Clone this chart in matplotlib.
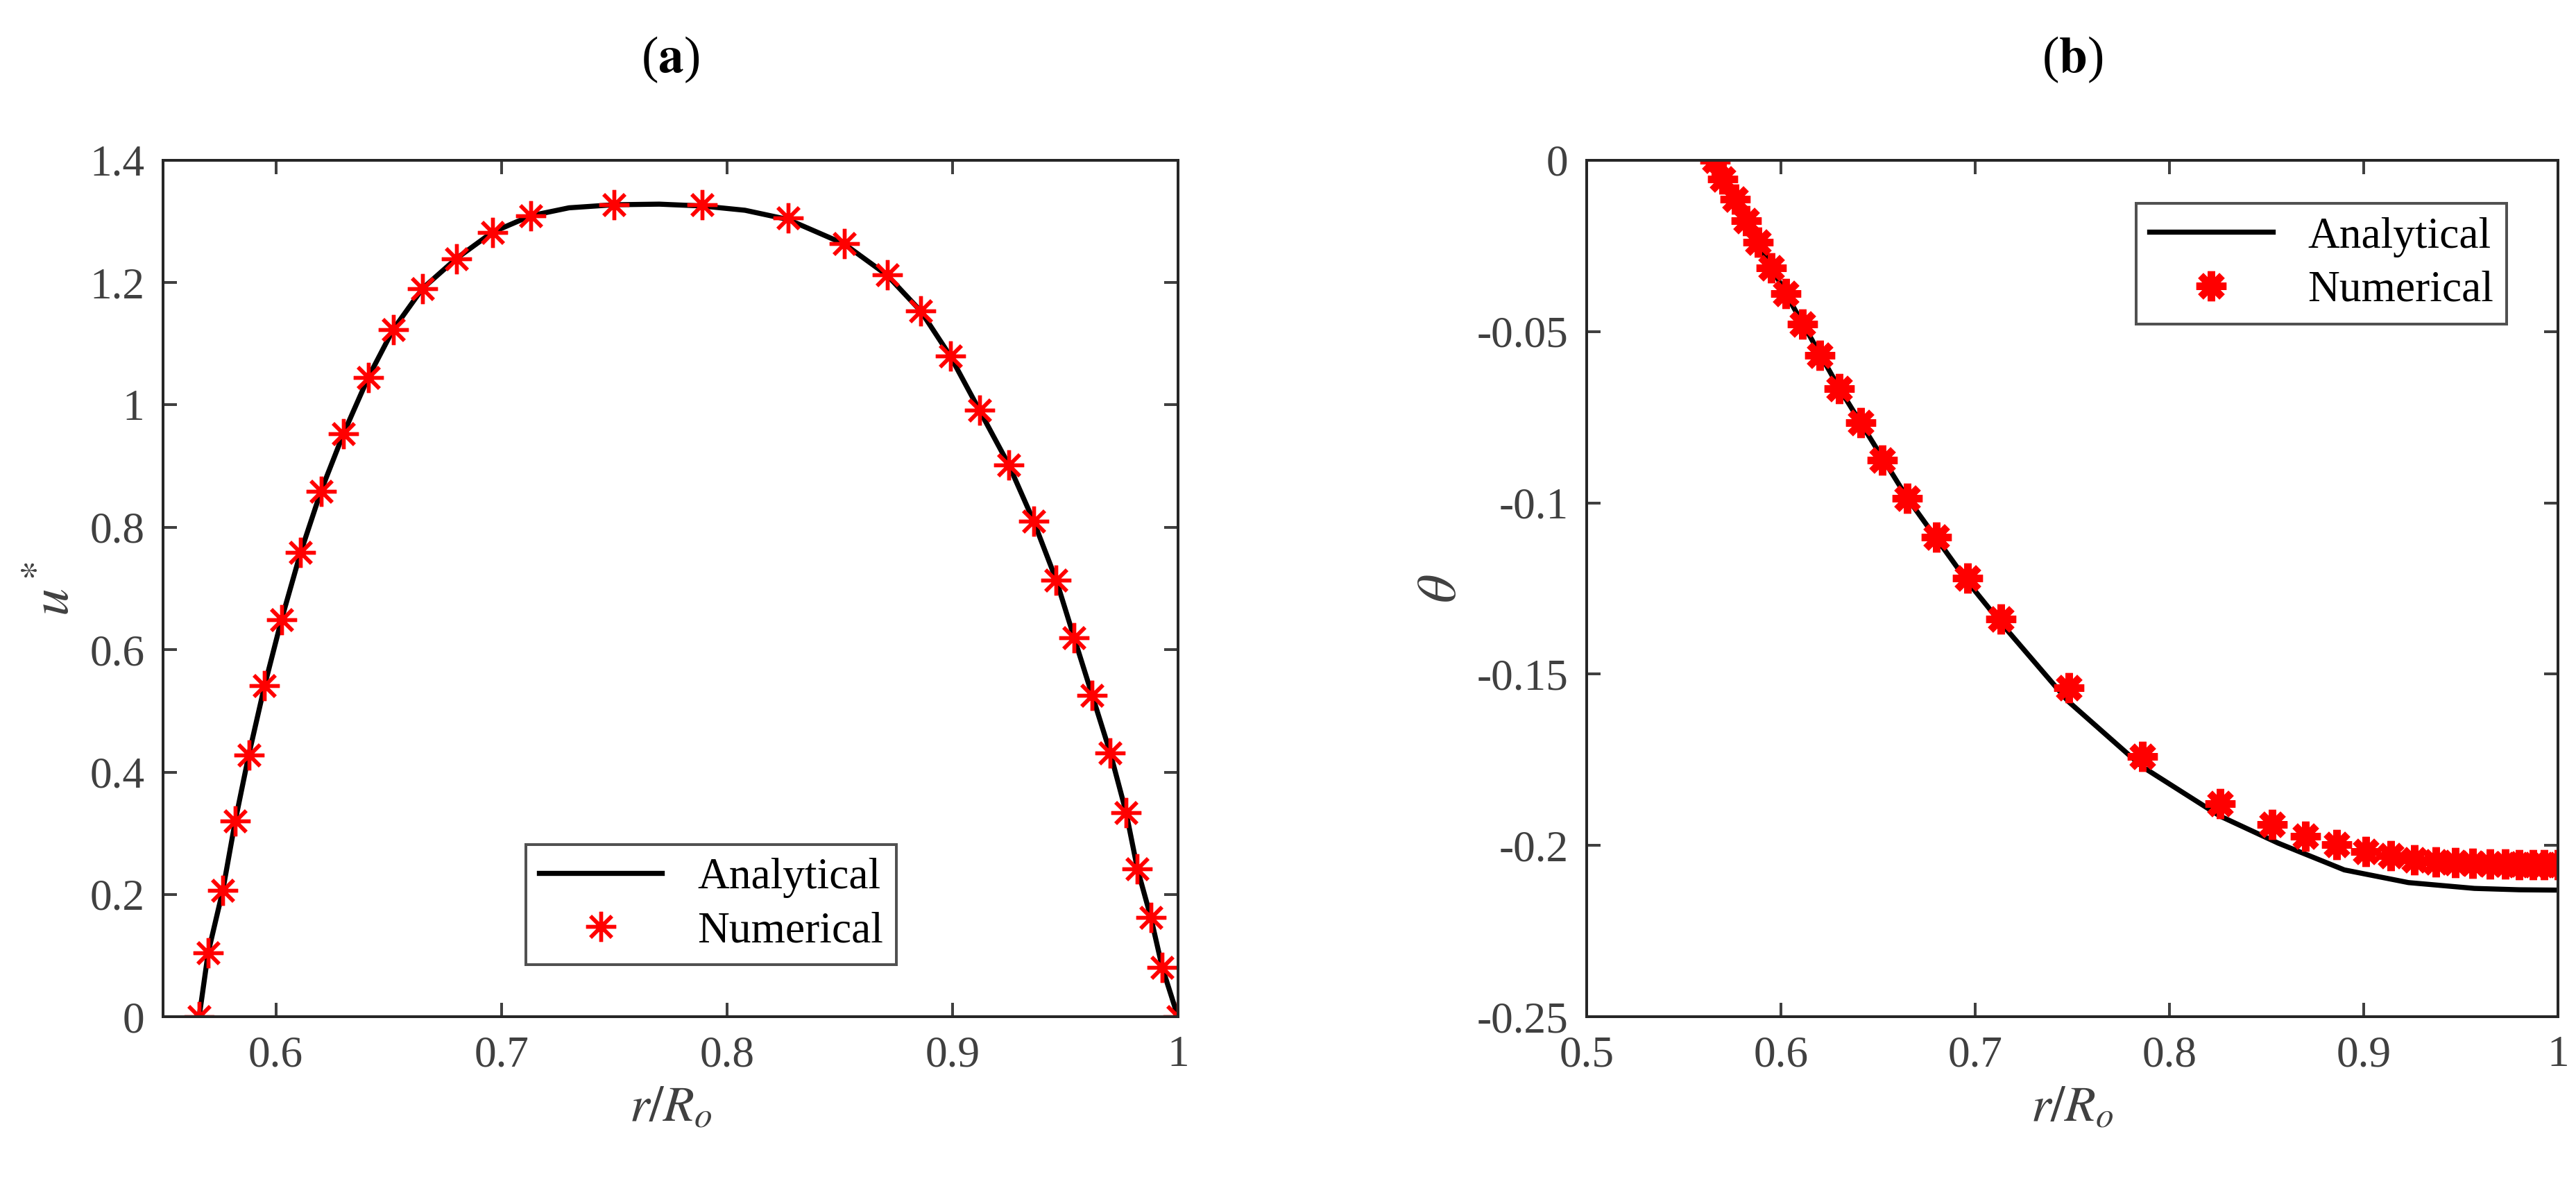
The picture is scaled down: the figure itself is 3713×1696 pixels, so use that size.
import matplotlib

matplotlib.use("Agg")
import matplotlib.pyplot as plt
from matplotlib.ticker import FormatStrFormatter

plt.rcParams["font.family"] = ["Liberation Serif", "DejaVu Serif"]
plt.rcParams["mathtext.fontset"] = "stix"

# (a) velocity u*
a_num_r = [0.566, 0.570, 0.5765, 0.582, 0.588, 0.595, 0.6025, 0.611, 0.620, 0.630,
           0.641, 0.652, 0.665, 0.680, 0.696, 0.713, 0.750, 0.789, 0.827, 0.852,
           0.871, 0.886, 0.899, 0.912, 0.925, 0.936, 0.946, 0.954, 0.962, 0.970,
           0.977, 0.982, 0.988, 0.993, 1.0]
a_num_u = [0.0, 0.105, 0.207, 0.32, 0.428, 0.541, 0.649, 0.759, 0.859, 0.953,
           1.045, 1.123, 1.19, 1.239, 1.282, 1.309, 1.327, 1.327, 1.306, 1.263,
           1.212, 1.153, 1.080, 0.991, 0.902, 0.810, 0.714, 0.619, 0.525, 0.431,
           0.334, 0.242, 0.162, 0.081, 0.0]
a_ana_r = [0.566, 0.570, 0.5765, 0.582, 0.588, 0.595, 0.6025, 0.611, 0.620, 0.630,
           0.641, 0.652, 0.665, 0.680, 0.696, 0.713, 0.730, 0.750, 0.770, 0.789,
           0.808, 0.827, 0.852, 0.871, 0.886, 0.899, 0.912, 0.925, 0.936, 0.946,
           0.954, 0.962, 0.970, 0.977, 0.982, 0.988, 0.993, 1.0]
a_ana_u = [0.0, 0.105, 0.207, 0.32, 0.428, 0.541, 0.649, 0.759, 0.859, 0.953,
           1.045, 1.123, 1.19, 1.239, 1.282, 1.309, 1.322, 1.327, 1.328, 1.325,
           1.318, 1.303, 1.263, 1.212, 1.153, 1.080, 0.991, 0.902, 0.810, 0.714,
           0.619, 0.525, 0.431, 0.334, 0.242, 0.162, 0.081, 0.0]

# (b) theta
b_num_r = [0.566, 0.570, 0.5765, 0.582, 0.588, 0.595, 0.6025, 0.611, 0.620, 0.630,
           0.641, 0.652, 0.665, 0.680, 0.696, 0.713, 0.748, 0.786, 0.826, 0.853,
           0.870, 0.886, 0.901, 0.914, 0.926, 0.937, 0.947, 0.956, 0.965, 0.973,
           0.980, 0.987, 0.993, 1.0]
b_num_t = [0.0, -0.0055, -0.0115, -0.0176, -0.024, -0.0314, -0.039, -0.0479, -0.057, -0.0666,
           -0.0767, -0.0875, -0.0986, -0.110, -0.122, -0.134, -0.154, -0.174, -0.1877, -0.1938,
           -0.1973, -0.1997, -0.2017, -0.203, -0.2041, -0.2047, -0.205, -0.2052, -0.2054, -0.2054,
           -0.2056, -0.2056, -0.2056, -0.2056]
b_ana_r = [0.566, 0.582, 0.6025, 0.630, 0.665, 0.696, 0.713, 0.748, 0.786, 0.826,
           0.856, 0.890, 0.923, 0.957, 0.980, 1.0]
b_ana_t = [0.0, -0.0176, -0.039, -0.0666, -0.0986, -0.123, -0.1349, -0.158, -0.177, -0.1914,
           -0.1993, -0.2071, -0.2108, -0.2125, -0.2129, -0.213]

fig = plt.figure(figsize=(3713 / 240, 1696 / 240), dpi=240)
ax1 = fig.add_axes([0.0633, 0.136, 0.394, 0.728])
ax2 = fig.add_axes([0.616, 0.136, 0.377, 0.728])

gray = "#404040"
for ax in (ax1, ax2):
    ax.tick_params(direction="in", top=True, right=True, labelsize=19,
                   colors=gray, length=6, width=1.2, pad=8)
    for s in ax.spines.values():
        s.set_color("#262626")
        s.set_linewidth(1.2)
    ax.set_xlabel(r"$r/R_o$", fontsize=22, color=gray)
    ax.xaxis.set_major_formatter(FormatStrFormatter("%g"))
    ax.yaxis.set_major_formatter(FormatStrFormatter("%g"))

ax1.plot(a_ana_r, a_ana_u, "k-", lw=2.2, label="Analytical")
ax1.plot(a_num_r, a_num_u, ls="none", marker=(8, 2, 0), ms=13, mew=1.6,
         color="red", mec="red", label="Numerical")
ax1.set_xlim(0.55, 1)
ax1.set_ylim(0, 1.4)
ax1.set_xticks([0.6, 0.7, 0.8, 0.9, 1.0])
ax1.set_yticks([0, 0.2, 0.4, 0.6, 0.8, 1.0, 1.2, 1.4])
ax1.set_ylabel(r"$u^*$", fontsize=24, color=gray)
ax1.legend(loc="lower center", bbox_to_anchor=(0.54, 0.035), fontsize=19,
           frameon=True, fancybox=False, edgecolor="#262626", handlelength=2.8,
           borderpad=0.3, labelspacing=0.3).get_frame().set_linewidth(1.2)
ax1.set_title(r"($\mathbf{a}$)", fontsize=22, pad=38)

ax2.plot(b_ana_r, b_ana_t, "k-", lw=2.2, label="Analytical")
ax2.plot(b_num_r, b_num_t, ls="none", marker=(8, 2, 0), ms=13, mew=3.2,
         color="red", mec="red", label="Numerical")
ax2.set_xlim(0.5, 1)
ax2.set_ylim(-0.25, 0)
ax2.set_xticks([0.5, 0.6, 0.7, 0.8, 0.9, 1.0])
ax2.set_yticks([-0.25, -0.2, -0.15, -0.1, -0.05, 0])
ax2.set_ylabel(r"$\theta$", fontsize=24, color=gray)
ax2.legend(loc="upper right", bbox_to_anchor=(0.97, 0.975), fontsize=19,
           frameon=True, fancybox=False, edgecolor="#262626", handlelength=2.8,
           borderpad=0.3, labelspacing=0.3).get_frame().set_linewidth(1.2)
ax2.set_title(r"($\mathbf{b}$)", fontsize=22, pad=38)

fig.savefig("out.png", dpi=240)
